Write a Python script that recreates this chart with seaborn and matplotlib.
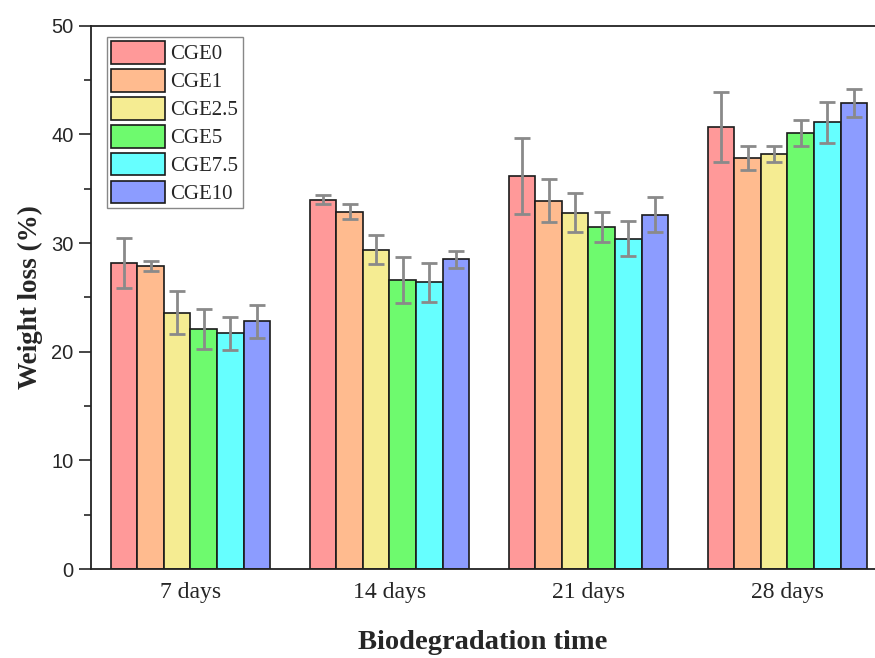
import numpy as np
import pandas as pd
import matplotlib
matplotlib.use("Agg")
import matplotlib.pyplot as plt
import seaborn as sns
from matplotlib.ticker import MultipleLocator

# data
days = ["7 days", "14 days", "21 days", "28 days"]
samples = ["CGE0", "CGE1", "CGE2.5", "CGE5", "CGE7.5", "CGE10"]
loss = {
    "CGE0":   [28.2, 34.0, 36.2, 40.7],
    "CGE1":   [27.9, 32.9, 33.9, 37.8],
    "CGE2.5": [23.6, 29.4, 32.8, 38.2],
    "CGE5":   [22.1, 26.6, 31.5, 40.1],
    "CGE7.5": [21.7, 26.4, 30.4, 41.1],
    "CGE10":  [22.8, 28.5, 32.6, 42.9],
}
err = {
    "CGE0":   [2.3, 0.4, 3.5, 3.2],
    "CGE1":   [0.45, 0.7, 2.0, 1.1],
    "CGE2.5": [2.0, 1.3, 1.8, 0.75],
    "CGE5":   [1.8, 2.1, 1.4, 1.2],
    "CGE7.5": [1.5, 1.8, 1.6, 1.9],
    "CGE10":  [1.5, 0.75, 1.6, 1.3],
}
colors = ["#FF9999", "#FFBB8F", "#F5EC92", "#6EFA6E", "#66FFFF", "#8C9CFF"]

rows = []
for s in samples:
    for d, v, e in zip(days, loss[s], err[s]):
        rows.append({"time": d, "sample": s, "loss": v, "err": e})
df = pd.DataFrame(rows)

sns.set_theme(style="ticks")
serif = ["Liberation Serif", "DejaVu Serif"]

fig = plt.figure(figsize=(8.75, 6.58), dpi=100)
ax = fig.add_axes([0.104, 0.135, 0.896, 0.826])

sns.barplot(data=df, x="time", y="loss", hue="sample", order=days,
            hue_order=samples, palette=colors, errorbar=None, width=0.8,
            edgecolor="#1a1a1a", linewidth=1.2, saturation=1, ax=ax)

# error bars at the bar centres
for cont, s in zip(ax.containers, samples):
    xs = [b.get_x() + b.get_width() / 2 for b in cont]
    hs = [b.get_height() for b in cont]
    ax.errorbar(xs, hs, yerr=err[s], fmt="none", ecolor="#8a8a8a",
                elinewidth=2, capsize=6, capthick=2, zorder=5)

ax.set_xlim(-0.5, 3.44)
ax.set_ylim(0, 50)
ax.yaxis.set_major_locator(MultipleLocator(10))
ax.yaxis.set_minor_locator(MultipleLocator(5))
ax.tick_params(axis="y", which="major", length=9, width=1.2, direction="out",
               labelsize=14.5)
ax.tick_params(axis="y", which="minor", length=5, width=1.2, direction="out")
ax.tick_params(axis="x", length=0, pad=9)
for lab in ax.get_yticklabels():
    lab.set_family(["Liberation Sans", "DejaVu Sans"])
for lab in ax.get_xticklabels():
    lab.set_family(serif)
    lab.set_fontsize(17)

for sp in ["left", "bottom", "top"]:
    ax.spines[sp].set_linewidth(1.3)
    ax.spines[sp].set_color("#222222")
ax.spines["right"].set_visible(False)

ax.set_ylabel("Weight loss (%)", fontsize=19.5, fontweight="bold",
              family=serif, labelpad=6)
ax.set_xlabel("Biodegradation time", fontsize=20.5, fontweight="bold",
              family=serif, labelpad=20)

ax.legend(loc="upper left", bbox_to_anchor=(0.015, 0.987), frameon=True,
          fancybox=False, edgecolor="#888888", framealpha=1,
          prop={"family": serif, "size": 15}, handlelength=2.6,
          handleheight=1.3, labelspacing=0.22, handletextpad=0.25,
          borderpad=0.2, borderaxespad=0.2, title=None)

fig.savefig("out.png", dpi=100)
